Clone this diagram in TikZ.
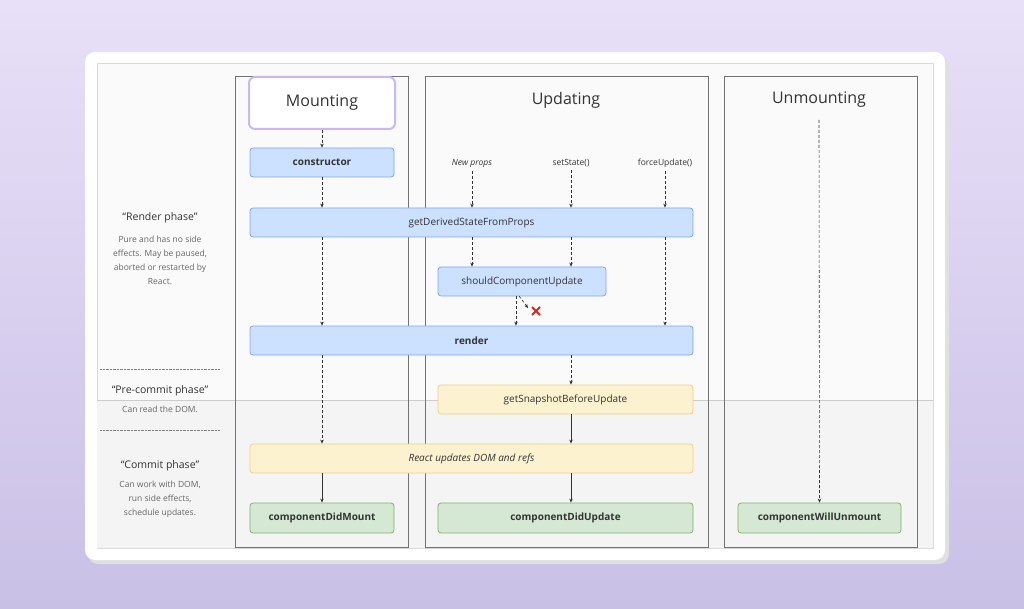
\documentclass[tikz,border=0pt]{standalone}
\usepackage{fontspec}
\setmainfont{Open Sans}
\usetikzlibrary{arrows.meta}
\definecolor{bgtop}{HTML}{E8E0F8}
\definecolor{bgbot}{HTML}{C9C0E6}
\definecolor{bfill}{HTML}{CCE0FF}
\definecolor{bdraw}{HTML}{7EA6F0}
\definecolor{yfill}{HTML}{FDF2CF}
\definecolor{ydraw}{HTML}{EBD28A}
\definecolor{gfill}{HTML}{D5E8D4}
\definecolor{gdraw}{HTML}{82B366}
\definecolor{txt}{HTML}{333333}
\definecolor{xred}{HTML}{D2281E}
\tikzset{
 x=1pt,y=-1pt,
 box/.style={draw, rounded corners=3pt, line width=0.8pt, text=txt, font=\fontsize{10}{12}\selectfont, inner sep=0pt},
 blue/.style={box, fill=bfill, draw=bdraw},
 yel/.style={box, fill=yfill, draw=ydraw},
 grn/.style={box, fill=gfill, draw=gdraw, font=\fontsize{10}{12}\selectfont\bfseries},
 col/.style={draw=black!55, fill=none, line width=0.6pt},
 da/.style={densely dashed, -{Stealth[length=4pt,width=3.5pt]}, black!80, line width=0.6pt},
 so/.style={-{Stealth[length=4pt,width=3.5pt]}, black!80, line width=0.8pt},
 lbl/.style={font=\fontsize{8.5}{10}\selectfont, text=txt},
 side/.style={align=center, text=black!60, font=\fontsize{8.5}{14}\selectfont},
 sidet/.style={text=black!80, font=\fontsize{10.5}{12}\selectfont},
}
\begin{document}
\begin{tikzpicture}
\useasboundingbox (0,0) rectangle (1024,609);
\shade[top color=bgtop, bottom color=bgbot] (0,0) rectangle (1024,609);
\fill[black!12, rounded corners=10pt] (88,56) rectangle (949,564);
\fill[white, rounded corners=10pt] (85,52) rectangle (945,560);
\draw[black!15, fill=black!2] (97,63) rectangle (933,548);
\fill[black!4.5] (97,400) rectangle (933,548);
\draw[black!20] (97,400) -- (933,400);
% columns
\draw[col] (235,76) rectangle (408,547);
\draw[col] (425,76) rectangle (708,547);
\draw[col] (724,76) rectangle (917,547);
% titles
\node[draw={rgb,255:red,200;green,184;blue,245}, line width=2pt, rounded corners=6pt, fill=white, minimum width=146pt, minimum height=52pt, text=txt, font=\fontsize{16}{18}\selectfont] (mt) at (322,103) {Mounting};
\node[text=txt, font=\fontsize{16}{18}\selectfont] (ut) at (566,100) {Updating};
\node[text=txt, font=\fontsize{16}{18}\selectfont] (unt) at (819,100) {Unmounting};
% nodes
\node[blue, font=\fontsize{10}{12}\selectfont\bfseries, minimum width=144pt, minimum height=29pt] (con) at (322,162.5) {constructor};
\node[blue, minimum width=443pt, minimum height=29pt] (gd) at (471.5,222.5) {getDerivedStateFromProps};
\node[blue, minimum width=168pt, minimum height=29pt] (scu) at (522,281.5) {shouldComponentUpdate};
\node[blue, font=\fontsize{10}{12}\selectfont\bfseries, minimum width=443pt, minimum height=29pt] (ren) at (471.5,340.5) {render};
\node[yel, minimum width=255pt, minimum height=29pt] (gs) at (565.5,399.5) {getSnapshotBeforeUpdate};
\node[yel, font=\fontsize{10}{12}\selectfont\itshape, minimum width=443pt, minimum height=29pt] (rd) at (471.5,458.5) {React updates DOM and refs};
\node[grn, minimum width=144pt, minimum height=30pt] (cdm) at (322,518) {componentDidMount};
\node[grn, minimum width=255pt, minimum height=30pt] (cdu) at (565.5,518) {componentDidUpdate};
\node[grn, minimum width=163pt, minimum height=30pt] (cwu) at (819.5,518) {componentWillUnmount};
% labels
\node[lbl, font=\fontsize{8.5}{10}\selectfont\itshape] (np) at (472,163) {New props};
\node[lbl] (ss) at (571,163) {setState()};
\node[lbl] (fu) at (665,163) {forceUpdate()};
% mounting arrows
\draw[da] (mt) -- (con);
\draw[da] (con) -- (gd.north -| con);
\draw[da] (gd.south -| con) -- (ren.north -| con);
\draw[da] (ren.south -| con) -- (rd.north -| con);
\draw[so] (rd.south -| cdm) -- (cdm);
% updating arrows
\draw[da] (np) -- (gd.north -| np);
\draw[da] (ss) -- (gd.north -| ss);
\draw[da] (fu) -- (gd.north -| fu);
\draw[da] (gd.south -| np) -- (scu.north -| np);
\draw[da] (gd.south -| ss) -- (scu.north -| ss);
\draw[da] (gd.south -| fu) -- (ren.north -| fu);
\coordinate (s1) at (516,296);
\draw[da] (s1) -- (s1 |- ren.north);
\coordinate (s2) at (519,296);
\coordinate (s3) at (528,308);
\draw[da] (s2) -- (s3);
\draw[xred, line width=2pt] (532,307) -- (540,315) (540,307) -- (532,315);
\draw[da] (ren.south -| ss) -- (gs.north -| ss);
\draw[so] (gs.south -| ss) -- (rd.north -| ss);
\draw[so] (rd.south -| ss) -- (cdu.north -| ss);
% unmount
\coordinate (u0) at (819,120);
\draw[da] (u0) -- (cwu);
% left texts
\node[sidet] (rp) at (160,218) {“Render phase”};
\node[side, anchor=north] (rpd) at (160,233) {Pure and has no side\\effects. May be paused,\\aborted or restarted by\\React.};
\draw[black!50, densely dotted] (100,369) -- (220,369);
\node[sidet] (pc) at (160,391) {“Pre-commit phase”};
\node[side] (pcd) at (160,409) {Can read the DOM.};
\draw[black!50, densely dotted] (100,430) -- (220,430);
\node[sidet] (cp) at (160,466) {“Commit phase”};
\node[side, anchor=north] (cpd) at (160,478) {Can work with DOM,\\run side effects,\\schedule updates.};
\end{tikzpicture}
\end{document}
